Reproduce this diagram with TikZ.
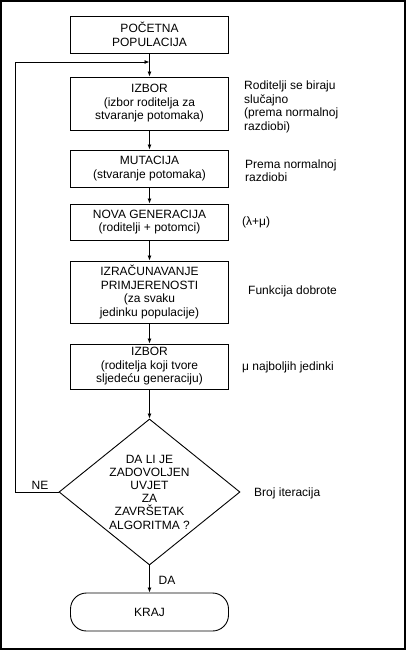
\documentclass[tikz,border=0pt]{standalone}
\usepackage{fontspec}
\setmainfont{Liberation Sans}
\usetikzlibrary{arrows.meta,shapes.geometric}
\begin{document}
\begin{tikzpicture}[x=1pt,y=-1pt,
  box/.style={draw,line width=0.9pt,minimum width=158pt,inner sep=0pt,align=center,font=\fontsize{12}{13.5}\selectfont},
  decision/.style={draw,shape=diamond,line width=0.9pt,minimum width=181pt,minimum height=146pt,aspect=1.24,inner sep=0pt,align=center,font=\fontsize{12}{13.2}\selectfont},
  terminal/.style={draw,line width=0.9pt,minimum width=158pt,rounded corners=16pt,inner sep=0pt,font=\fontsize{12}{13.5}\selectfont},
  note/.style={anchor=north west,inner sep=0pt,align=left,font=\fontsize{12}{13.5}\selectfont},
  lbl/.style={inner sep=0pt,font=\fontsize{12}{13.5}\selectfont},
  arr/.style={-{Latex[length=5pt,width=4pt]},line width=0.8pt}]
\useasboundingbox (0,0) rectangle (406,650);
\draw[line width=1.5pt] (1,1) rectangle (405,649);

\node[box,minimum height=37pt] (start) at (149.5,34.5) {POČETNA\\POPULACIJA};
\node[box,minimum height=53pt] (sel1) at (149.5,103.5) {IZBOR\\(izbor roditelja za\\stvaranje potomaka)};
\node[box,minimum height=37pt] (mut) at (149.5,168.5) {MUTACIJA\\(stvaranje potomaka)};
\node[box,minimum height=36pt] (nova) at (149.5,222) {NOVA GENERACIJA\\(roditelji + potomci)};
\node[box,minimum height=62pt] (fit) at (149.5,292) {IZRAČUNAVANJE\\PRIMJERENOSTI\\(za svaku\\jedinku populacije)};
\node[box,minimum height=45pt] (sel2) at (149.5,366.5) {IZBOR\\(roditelja koji tvore\\sljedeću generaciju)};
\node[decision] (dec) at (149.5,492) {DA LI JE\\ZADOVOLJEN\\UVJET\\ZA\\ZAVRŠETAK\\ALGORITMA ?};
\node[terminal,minimum height=38pt] (end) at (149.5,612) {KRAJ};

\coordinate (join) at (149.5,62);
\draw[line width=0.8pt] (start.south) -- (join);
\draw[arr] (join) -- (sel1.north);
\draw[arr] (sel1.south) -- (mut.north);
\draw[arr] (mut.south) -- (nova.north);
\draw[arr] (nova.south) -- (fit.north);
\draw[arr] (fit.south) -- (sel2.north);
\draw[arr] (sel2.south) -- (dec.north);
\draw[arr] (dec.south) -- (end.north);
\draw[arr] (dec.west) -- (15,492) -- (15,62) -- (join);

\node[lbl] (ne) at (40,485) {NE};
\node[lbl] (da) at (167,580) {DA};

\node[note] (n1) at (244,81) {Roditelji se biraju\\slučajno\\(prema normalnoj\\razdiobi)};
\node[note] (n2) at (245,159.5) {Prema normalnoj\\razdiobi};
\node[note] (n3) at (242,216.5) {(λ+μ)};
\node[note] (n4) at (248,285.5) {Funkcija dobrote};
\node[note] (n5) at (242,361.5) {μ najboljih jedinki};
\node[note] (n6) at (254,487.5) {Broj iteracija};
\end{tikzpicture}
\end{document}
